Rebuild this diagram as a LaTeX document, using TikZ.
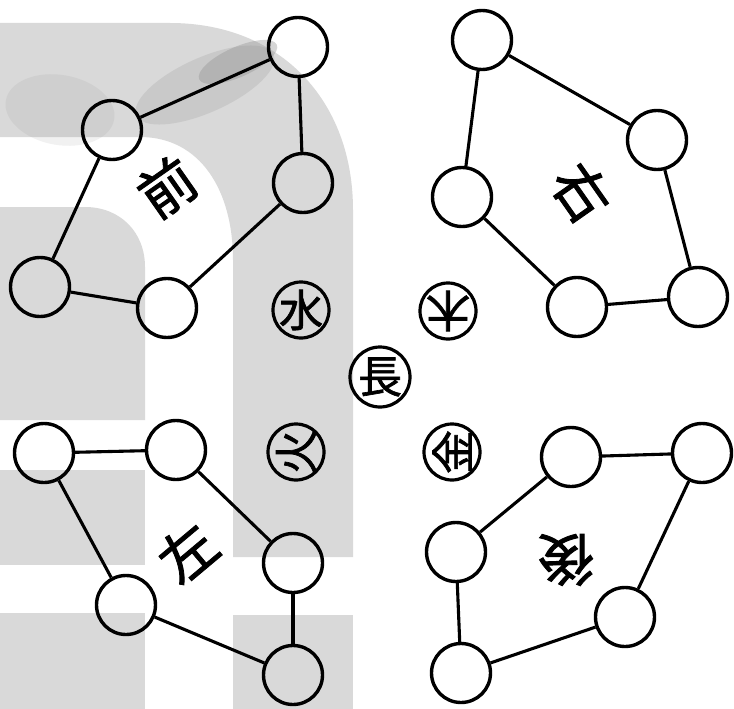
\documentclass[tikz,border=0pt]{standalone}
\usepackage{fontspec}
\usetikzlibrary{shapes.geometric}
\newfontfamily\cjk[FakeBold=1.5]{Noto Sans CJK JP}
\begin{document}
\begin{tikzpicture}[x=1pt,y=-1pt]
\tikzset{
  ring/.style={circle, draw, line width=3.4pt, minimum size=59pt, inner sep=0pt},
  elem/.style={circle, draw, line width=3.2pt, minimum size=56pt, inner sep=0pt},
  etext/.style={font=\cjk\fontsize{44}{44}\selectfont, inner sep=0pt},
  link/.style={line width=3.1pt},
  lbl/.style={font=\cjk\fontsize{56}{56}\selectfont, inner sep=0pt},
  paper/.style={fill=black!15, draw=none},
  smudge/.style={ellipse, draw=none, fill=black!45, inner sep=0pt}
}
\useasboundingbox (0,0) rectangle (734,709);
\fill[white] (0,0) rectangle (734,709);
% scanned background shapes
\fill[paper] (0,23) -- (170,23) .. controls (280,23) and (353,100) .. (353,210)
  -- (353,557) -- (233,557) -- (233,260) .. controls (233,190) and (200,137) .. (140,137)
  -- (0,137) -- cycle;
\fill[paper] (0,207) -- (85,207) .. controls (120,207) and (145,232) .. (145,267)
  -- (145,420) -- (0,420) -- cycle;
\fill[paper] (0,470) rectangle (145,565);
\fill[paper] (0,613) rectangle (145,709);
\fill[paper] (233,615) rectangle (353,709);
\node[smudge, opacity=0.2, minimum width=150pt, minimum height=55pt, rotate=24] (s1) at (205,85) {};
\node[smudge, opacity=0.35, minimum width=85pt, minimum height=30pt, rotate=24] (s2) at (238,62) {};
\node[smudge, opacity=0.12, minimum width=110pt, minimum height=70pt, rotate=-10] (s3) at (60,110) {};

% front group
\node[ring] (a1) at (298,47) {};
\node[ring] (a2) at (112,130) {};
\node[ring] (a3) at (303,183) {};
\node[ring] (a4) at (40,287) {};
\node[ring] (a5) at (167,308) {};
\draw[link] (a2) -- (a1);
\draw[link] (a1) -- (a3);
\draw[link] (a3) -- (a5);
\draw[link] (a5) -- (a4);
\draw[link] (a4) -- (a2);
\node[lbl, rotate=35] (qian) at (167,187) {前};

% right group
\node[ring] (b1) at (482,40) {};
\node[ring] (b2) at (657,140) {};
\node[ring] (b3) at (462,197) {};
\node[ring] (b4) at (577,307) {};
\node[ring] (b5) at (698,297) {};
\draw[link] (b1) -- (b3);
\draw[link] (b1) -- (b2);
\draw[link] (b2) -- (b5);
\draw[link] (b3) -- (b4);
\draw[link] (b4) -- (b5);
\node[lbl, rotate=-55] (you) at (582,192) {右};

% left group
\node[ring] (c1) at (44,453) {};
\node[ring] (c2) at (176,450) {};
\node[ring] (c3) at (293,563) {};
\node[ring] (c4) at (126,605) {};
\node[ring] (c5) at (293,675) {};
\draw[link] (c1) -- (c2);
\draw[link] (c2) -- (c3);
\draw[link] (c3) -- (c5);
\draw[link] (c5) -- (c4);
\draw[link] (c4) -- (c1);
\node[lbl, rotate=40] (zuo) at (187,552) {左};

% rear group
\node[ring] (d1) at (571,457) {};
\node[ring] (d2) at (702,453) {};
\node[ring] (d3) at (456,552) {};
\node[ring] (d4) at (625,617) {};
\node[ring] (d5) at (461,673) {};
\draw[link] (d1) -- (d2);
\draw[link] (d1) -- (d3);
\draw[link] (d3) -- (d5);
\draw[link] (d5) -- (d4);
\draw[link] (d4) -- (d2);
\node[lbl, rotate=180] (hou) at (566,560) {後};

% centre
\node[elem] (e1) at (301,310) {};
\node[etext] (t1) at (e1) {水};
\node[elem] (e2) at (448,311) {};
\node[etext, rotate=180] (t2) at (e2) {木};
\node[elem, minimum size=60pt] (e0) at (380,377) {};
\node[etext] (t0) at (e0) {長};
\node[elem] (e3) at (296,452) {};
\node[etext, rotate=90] (t3) at (e3) {火};
\node[elem] (e4) at (452,452) {};
\node[etext, rotate=90] (t4) at (e4) {金};
\end{tikzpicture}
\end{document}
